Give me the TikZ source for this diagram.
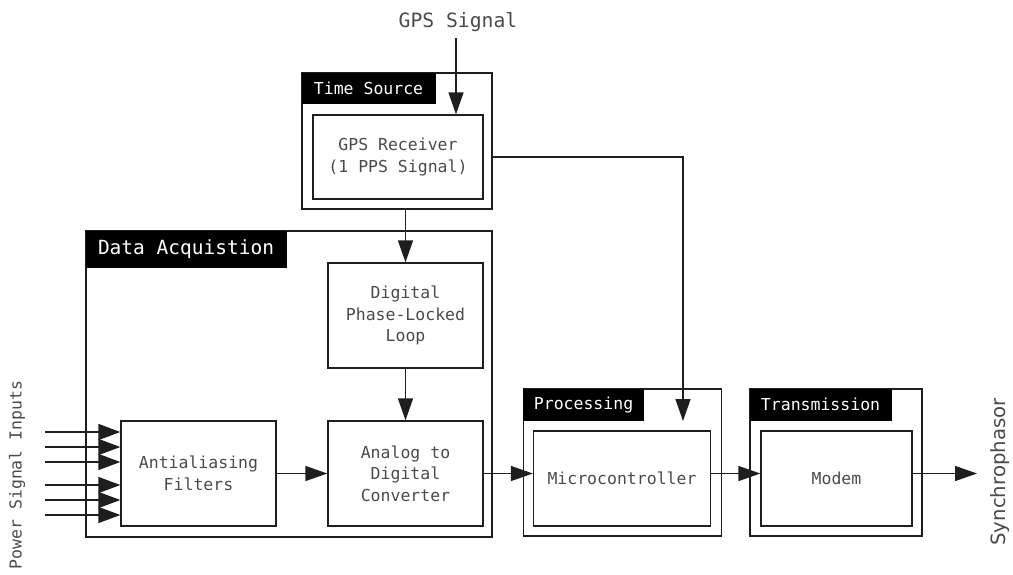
\documentclass[tikz,border=0pt]{standalone}
\usepackage{fontspec}
\setmonofont{DejaVu Sans Mono}
\setsansfont{DejaVu Sans}
\usetikzlibrary{arrows.meta,positioning,calc}
\definecolor{ink}{HTML}{1E1E1E}
\definecolor{txt}{HTML}{4A4A4A}
\tikzset{
  group/.style={draw=ink, line width=1.3pt, inner sep=0pt},
  tag/.style={fill=black, text=white, anchor=north west, inner sep=0pt,
              font=\ttfamily\fontsize{16.5}{20}\selectfont},
  block/.style={draw=ink, line width=1.3pt, align=center, inner sep=0pt,
                text=txt, font=\ttfamily\fontsize{16.5}{21.5}\selectfont},
  note/.style={text=txt, font=\ttfamily\fontsize{16.5}{20}\selectfont},
  flow/.style={-{Triangle[length=22pt,width=15pt]}, line width=1.4pt, draw=ink},
}

\begin{document}
\begin{tikzpicture}[x=1pt,y=-1pt]
\useasboundingbox (0,0) rectangle (1013,574);

% ---- time source ---------------------------------------------------
\node[note, font=\ttfamily\fontsize{19.7}{22}\selectfont] (gpssig) at (458,22) {GPS Signal};
\node[group, minimum width=190pt, minimum height=136pt] (tsbox) at (397,141) {};
\node[tag, minimum width=134pt, minimum height=31pt] at (tsbox.north west) {Time Source};
\node[block, minimum width=170pt, minimum height=84pt] (gps) at (398,157)
     {GPS Receiver\\(1 PPS Signal)};
\coordinate (gpsin) at (456,38);

% ---- data acquisition ----------------------------------------------
\node[group, minimum width=406pt, minimum height=306pt] (dabox) at (289,384) {};
\node[tag, minimum width=201pt, minimum height=37pt,
      font=\ttfamily\fontsize{19.5}{22}\selectfont] at (dabox.north west) {Data Acquistion};
\node[block, minimum width=155pt, minimum height=105pt] (dpll) at (405.5,315.5)
     {Digital\\Phase-Locked\\Loop};
\node[block, minimum width=155pt, minimum height=105pt] (adc) at (405.5,473.5)
     {Analog to\\Digital\\Converter};
\node[block, minimum width=155pt, minimum height=105pt] (aaf) at (198.5,473.5)
     {Antialiasing\\Filters};

% ---- processing ----------------------------------------------------
\node[group, minimum width=198pt, minimum height=147pt] (prbox) at (622.5,462.5) {};
\node[tag, minimum width=121pt, minimum height=32pt] at (prbox.north west) {Processing};
\node[block, minimum width=177pt, minimum height=95pt] (mcu) at (622,478.5)
     {Microcontroller};
\coordinate (mcuin) at (683,421);

% ---- transmission --------------------------------------------------
\node[group, minimum width=172pt, minimum height=147pt] (txbox) at (836,462.5) {};
\node[tag, minimum width=142pt, minimum height=32pt] at (txbox.north west) {Transmission};
\node[block, minimum width=151pt, minimum height=95pt] (modem) at (836.5,478.5) {Modem};
\coordinate (out) at (977,473.5);
\node[rotate=90, text=txt, font=\sffamily\fontsize{19.7}{22}\selectfont] (syn) at (1000,472) {Synchrophasor};

% ---- inputs --------------------------------------------------------
\node[rotate=90, note] (psi) at (17,475) {Power Signal Inputs};
\foreach \y in {432,447,462,485,500,515}
  \draw[flow, -{Triangle[length=22pt,width=16pt]}] (45,\y) -- (aaf.west |- 0,\y);

% ---- connectors ----------------------------------------------------
\draw[flow] (gpsin) -- (gpsin |- gps.north);
\draw[flow] (dpll.north |- tsbox.south) -- (dpll.north);
\draw[flow] (tsbox.east |- gps) -| (mcuin);
\draw[flow] (dpll) -- (adc);
\draw[flow] (aaf) -- (adc);
\draw[flow] (adc.east) -- (adc.east -| mcu.west);
\draw[flow] (mcu.east |- adc) -- (modem.west |- adc);
\draw[flow] (modem.east |- adc) -- (out);
\end{tikzpicture}
\end{document}
